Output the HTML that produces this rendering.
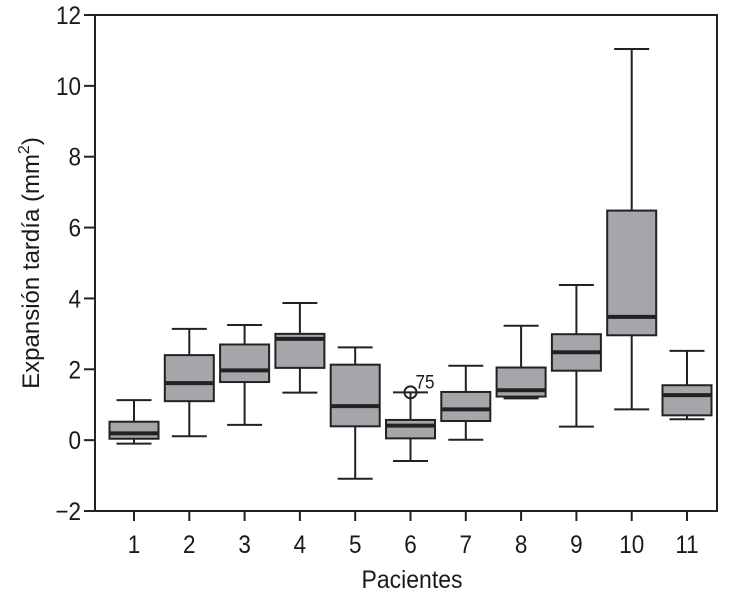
<!DOCTYPE html>
<html><head><meta charset="utf-8"><style>
html,body{margin:0;padding:0;background:#fff;}
svg text{font-family:"Liberation Sans",sans-serif;fill:#1a1a1a;}
</style></head><body>
<svg id="chart" width="730" height="600" viewBox="0 0 730 600" xmlns="http://www.w3.org/2000/svg"></svg>
<script>
const categories = ["1","2","3","4","5","6","7","8","9","10","11"];
const whiskerLow = [-0.10,0.11,0.43,1.34,-1.09,-0.59,0.01,1.18,0.38,0.87,0.59];
const q1Values   = [0.04,1.10,1.64,2.04,0.39,0.05,0.54,1.23,1.96,2.96,0.70];
const medians    = [0.19,1.61,1.97,2.86,0.96,0.41,0.87,1.41,2.48,3.48,1.27];
const q3Values   = [0.52,2.40,2.70,3.00,2.13,0.57,1.36,2.05,2.99,6.48,1.55];
const whiskerHigh= [1.13,3.14,3.25,3.87,2.62,1.35,2.10,3.23,4.38,11.04,2.52];
const outlierCats = ["6"];
const outlierValues = [1.35];
const outlierLabels = ["75"];
const yTicks = [-2,0,2,4,6,8,10,12];
const yTickLabels = ["\u22122","0","2","4","6","8","10","12"];

const NS="http://www.w3.org/2000/svg";
const svg=document.getElementById('chart');
const L=95,R=717,T=15,B=511,yMin=-2,yMax=12;
function y(v){return B-(v-yMin)/(yMax-yMin)*(B-T);}
const step=55.3, x0=134;
function x(c){return x0+categories.indexOf(c)*step;}
function mk(tag,attrs,parent){const e=document.createElementNS(NS,tag);for(const k in attrs)e.setAttribute(k,attrs[k]);(parent||svg).appendChild(e);return e;}
function txt(px,py,size,anchor,sx){return mk('text',{x:0,y:0,'text-anchor':anchor,'font-size':size,transform:'translate('+px+','+py+') scale('+sx+',1)'});}

const frame=mk('rect',{x:L,y:T,width:R-L,height:B-T,fill:'none',stroke:'#222','stroke-width':2});



yTicks.forEach((t,i)=>{
  const ln=mk('line',{x1:L-11,x2:L,y1:y(t),y2:y(t),stroke:'#222','stroke-width':2});
  
  
  const tx=txt(L-14,y(t)+9,25,'end',0.9);
  tx.textContent=yTickLabels[i];
  
  
});

categories.forEach((c,i)=>{
  const cx=x(c), bw=49, cw=35;
  const g=mk('g',{});
  
  
  mk('line',{x1:cx,x2:cx,y1:B,y2:B+10,stroke:'#222','stroke-width':2},g);
  mk('line',{x1:cx,x2:cx,y1:y(whiskerHigh[i]),y2:y(q3Values[i]),stroke:'#222','stroke-width':2},g);
  mk('line',{x1:cx,x2:cx,y1:y(q1Values[i]),y2:y(whiskerLow[i]),stroke:'#222','stroke-width':2},g);
  mk('line',{x1:cx-cw/2,x2:cx+cw/2,y1:y(whiskerHigh[i]),y2:y(whiskerHigh[i]),stroke:'#222','stroke-width':2},g);
  mk('line',{x1:cx-cw/2,x2:cx+cw/2,y1:y(whiskerLow[i]),y2:y(whiskerLow[i]),stroke:'#222','stroke-width':2},g);
  mk('rect',{x:cx-bw/2,y:y(q3Values[i]),width:bw,height:y(q1Values[i])-y(q3Values[i]),fill:'#a5a6a9',stroke:'#222','stroke-width':2},g);
  mk('line',{x1:cx-bw/2,x2:cx+bw/2,y1:y(medians[i]),y2:y(medians[i]),stroke:'#222','stroke-width':4},g);
  const tx=txt(cx,B+42,25,'middle',0.9);
  tx.textContent=c;
  
  
});

outlierCats.forEach((c,i)=>{
  const o=mk('circle',{cx:x(c),cy:y(outlierValues[i]),r:6,fill:'none',stroke:'#222','stroke-width':2});
  
  
  const t=txt(x(c)+5,y(outlierValues[i])-4,19,'start',0.9);
  t.textContent=outlierLabels[i];
  
  
});

const yt=mk('text',{x:0,y:0,'text-anchor':'middle','font-size':24,transform:'translate(39,263) rotate(-90)'});
yt.innerHTML='Expansión tardía (mm<tspan dy="-10" font-size="16">2</tspan><tspan dy="10">)</tspan>';



const xt=txt(412,588,25,'middle',0.92);
xt.textContent='Pacientes';


</script>
</body></html>
